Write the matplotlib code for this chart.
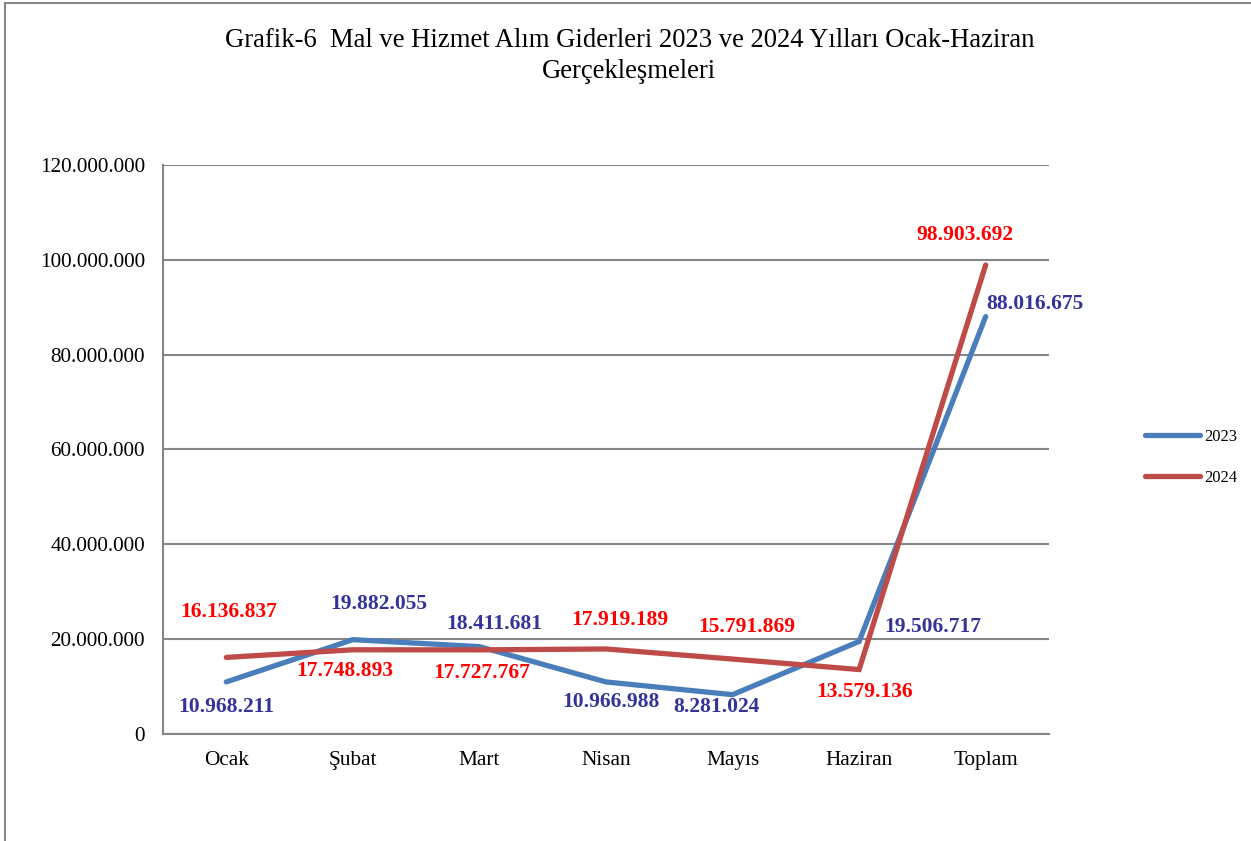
import matplotlib.pyplot as plt
from matplotlib.lines import Line2D
from matplotlib.ticker import FuncFormatter

aylar = ["Ocak", "Şubat", "Mart", "Nisan", "Mayıs", "Haziran", "Toplam"]
y2023 = [10968211, 19882055, 18411681, 10966988, 8281024, 19506717, 88016675]
y2024 = [16136837, 17748893, 17727767, 17919189, 15791869, 13579136, 98903692]

# label offsets in pixels (dx, dy)
off2023 = [(0, -25), (26, 36), (15, 23), (5, -20), (-16, -12), (74, 14), (49, 13)]
off2024 = [(2, 45), (-8, -21), (2, -23), (14, 29), (14, 32), (5, -22), (-21, 30)]

plt.rcParams['font.family'] = ['Liberation Serif', 'DejaVu Serif']

fig = plt.figure(figsize=(12.51, 8.41), dpi=100)
ax = fig.add_axes([0.1303, 0.1273, 0.7082, 0.6766])

x = range(len(aylar))
ax.plot(x, y2023, color="#4A7EBB", lw=3.8, label="2023", solid_capstyle="round", solid_joinstyle="miter")
ax.plot(x, y2024, color="#BE4B48", lw=3.8, label="2024", solid_capstyle="round", solid_joinstyle="miter")

def fmt(v):
    return f"{v:,.0f}".replace(",", ".")

for i, v in enumerate(y2023):
    ax.annotate(fmt(v), (i, v), xytext=off2023[i], textcoords="offset pixels",
                ha="center", va="center", color="#333399", fontsize=15.5, fontweight="bold")
for i, v in enumerate(y2024):
    ax.annotate(fmt(v), (i, v), xytext=off2024[i], textcoords="offset pixels",
                ha="center", va="center", color="#FF0000", fontsize=15.5, fontweight="bold")

ax.set_xlim(-0.5, len(aylar) - 0.5)
ax.set_ylim(0, 120000000)
ax.set_yticks(range(0, 120000001, 20000000))
ax.yaxis.set_major_formatter(FuncFormatter(lambda v, p: fmt(v)))
ax.set_xticks(list(x))
ax.set_xticklabels(aylar)
ax.tick_params(axis="both", length=0, labelsize=15.3)
ax.tick_params(axis="y", pad=13)
ax.tick_params(axis="x", pad=12)
ax.grid(axis="y", color="#868686", lw=1.5)
ax.set_axisbelow(True)
for s in ["top", "right"]:
    ax.spines[s].set_visible(False)
for s in ["left", "bottom"]:
    ax.spines[s].set_color("#868686")
    ax.spines[s].set_linewidth(1.5)

fig.text(0.503, 0.952, "Grafik-6  Mal ve Hizmet Alım Giderleri 2023 ve 2024 Yılları Ocak-Haziran",
         ha="center", va="center", fontsize=19.2)
fig.text(0.503, 0.915, "Gerçekleşmeleri", ha="center", va="center", fontsize=19.2)

ax.legend(loc="center left", bbox_to_anchor=(1.0915, 0.486), frameon=False, fontsize=12,
          handlelength=3.3, handletextpad=0.25, labelspacing=1.5)

# outer frame (left and top edges)
fig.add_artist(Line2D([5 / 1251, 5 / 1251], [0, 1 - 3 / 841], color="#888888", lw=1.5))
fig.add_artist(Line2D([5 / 1251, 1], [1 - 3 / 841, 1 - 3 / 841], color="#888888", lw=1.5))

fig.savefig("out.png", dpi=100, facecolor="white")
